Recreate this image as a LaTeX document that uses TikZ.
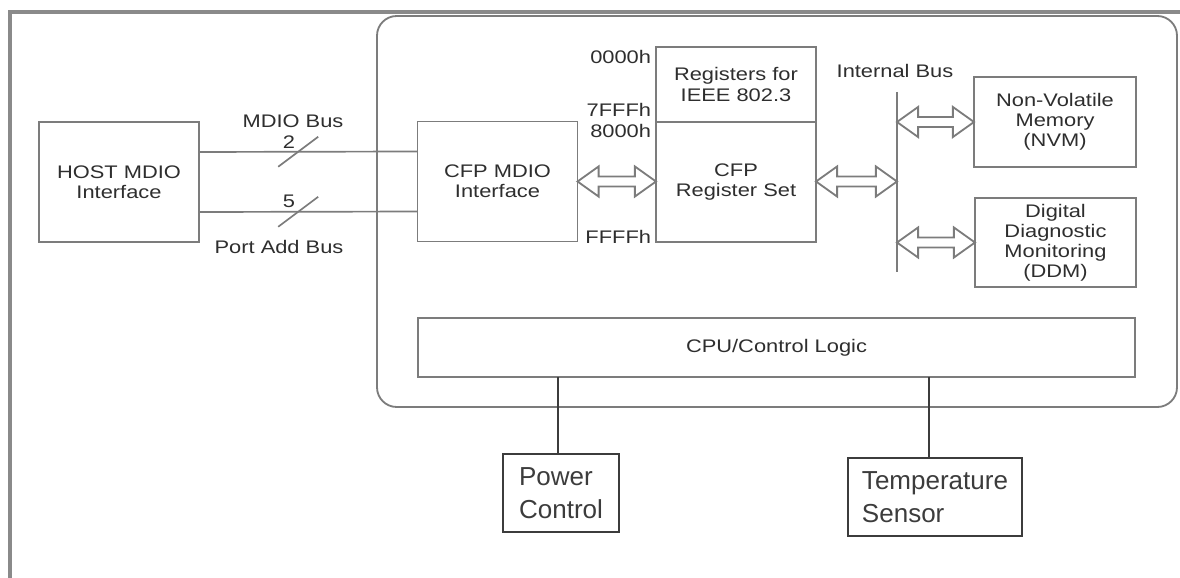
\documentclass[tikz,border=0pt]{standalone}
\usepackage{fontspec}
\setmainfont{Liberation Sans}
\newfontfamily\widesans[FakeStretch=1.2]{Liberation Sans}
\usetikzlibrary{calc}

\definecolor{linegray}{HTML}{7C7C7C}
\definecolor{textgray}{HTML}{2E2E2E}
\definecolor{framegray}{HTML}{8A8A8A}
\definecolor{darkline}{HTML}{3C3C3C}

\newcommand{\blockfont}{\widesans\fontsize{12.95pt}{14.3pt}\selectfont}
\newcommand{\bigfont}{\fontsize{18.5pt}{23.5pt}\selectfont}

% hollow double arrow between two points on the same height
\newcommand{\busarrow}[2]{%
  \draw[blockline] let \p1=#1, \p2=#2 in
    (\x1,\y1) -- (\x1+15pt,\y1+10.7pt) -- (\x1+15pt,\y1+3.6pt) -- (\x2-15pt,\y2+3.6pt)
    -- (\x2-15pt,\y2+10.7pt) -- (\x2,\y2) -- (\x2-15pt,\y2-10.7pt) -- (\x2-15pt,\y2-3.6pt)
    -- (\x1+15pt,\y1-3.6pt) -- (\x1+15pt,\y1-10.7pt) -- cycle;}

\begin{document}
\begin{tikzpicture}[x=0.025cm,y=-0.025cm,
    every node/.style={text=textgray,font=\blockfont},
    blockline/.style={draw=linegray,line width=1.3pt,line join=miter},
    block/.style={blockline,align=center,inner sep=0pt,outer sep=0pt},
    wire/.style={draw=linegray,line width=1.2pt},
    darkbox/.style={draw=darkline,line width=1.4pt,align=left,inner sep=0pt,outer sep=0pt,font=\bigfont,text=darkline}]
    \useasboundingbox (0,0) rectangle (1180,578);

    %%%%%%%%% Cornice %%%%%%%%%%
    \draw[framegray,line width=2.2pt] (10,578) -- (10,12) -- (1180,12);
    \draw[blockline,rounded corners=14pt] (377,16) rectangle (1177,407);

    %%%%%%%%% Blocchi %%%%%%%%%%
    \node[block,minimum width=4cm,minimum height=3cm] (host) at (119,182) {HOST MDIO\\Interface};
    \node[block,minimum width=4cm,minimum height=3cm] (cfpif) at (497.5,181.5) {CFP MDIO\\Interface};
    \node[block,minimum width=4cm,minimum height=1.875cm] (ieee) at (736,84.5) {Registers for\\IEEE 802.3};
    \node[block,minimum width=4cm,minimum height=3cm,anchor=north] (cfpreg) at (ieee.south) {CFP\\Register Set};
    \node[block,minimum width=4.05cm,minimum height=2.25cm] (nvm) at (1055,122) {Non-Volatile\\Memory\\(NVM)};
    \node[block,minimum width=4.025cm,minimum height=2.225cm] (ddm) at (1055.5,242.5) {Digital\\Diagnostic\\Monitoring\\(DDM)};
    \node[block,minimum width=17.925cm,minimum height=1.475cm] (cpu) at (776.5,347.5) {CPU/Control Logic};
    \node[darkbox,minimum width=2.9cm,minimum height=1.95cm] (pwr) at (561,493) {Power\\Control};
    \node[darkbox,minimum width=4.35cm,minimum height=1.95cm] (temp) at (935,497) {Temperature\\Sensor};

    %%%%%%%%% Indirizzi %%%%%%%%%%
    \node[anchor=east] at (656,57) {0000h};
    \node[anchor=east] at (656,110) {7FFFh};
    \node[anchor=east] at (656,131) {8000h};
    \node[anchor=east] at (656,237) {FFFFh};

    %%%%%%%%% Bus MDIO %%%%%%%%%%
    \draw[wire] ($(host.north east)!0.25!(host.south east)$) -- coordinate[pos=0.454] (mdio)
        ($(cfpif.north west)!0.25!(cfpif.south west)$);
    \draw[wire] ($(host.north east)!0.75!(host.south east)$) -- coordinate[pos=0.454] (portadd)
        ($(cfpif.north west)!0.75!(cfpif.south west)$);
    \draw[wire] ($(mdio)+(-20,15)$) -- ($(mdio)+(20,-15)$);
    \draw[wire] ($(portadd)+(-20,15)$) -- ($(portadd)+(20,-15)$);
    \node at (293,121) {MDIO Bus};
    \node at (289,142) {2};
    \node at (289,201) {5};
    \node at (279,247) {Port Add Bus};

    %%%%%%%%% Bus interno %%%%%%%%%%
    \coordinate (bustop) at (897,92);
    \coordinate (busbot) at (897,272);
    \draw[wire] (bustop) -- (busbot);
    \node at (895,71) {Internal Bus};

    %%%%%%%%% Frecce %%%%%%%%%
    \busarrow{(cfpif.east)}{(cfpif.east -| cfpreg.west)}
    \busarrow{(cfpreg.east |- cfpif.east)}{(bustop |- cfpif.east)}
    \busarrow{(bustop |- nvm.west)}{(nvm.west)}
    \busarrow{(bustop |- ddm.west)}{(ddm.west)}

    %%%%%%%%% Collegamenti CPU %%%%%%%%%
    \draw[draw=darkline,line width=1.3pt] ($(pwr.north)+(-3,0)$) coordinate (pwrtap) -- (pwrtap |- cpu.south);
    \draw[draw=darkline,line width=1.3pt] ($(temp.north)+(-6,0)$) coordinate (temptap) -- (temptap |- cpu.south);
\end{tikzpicture}
\end{document}
